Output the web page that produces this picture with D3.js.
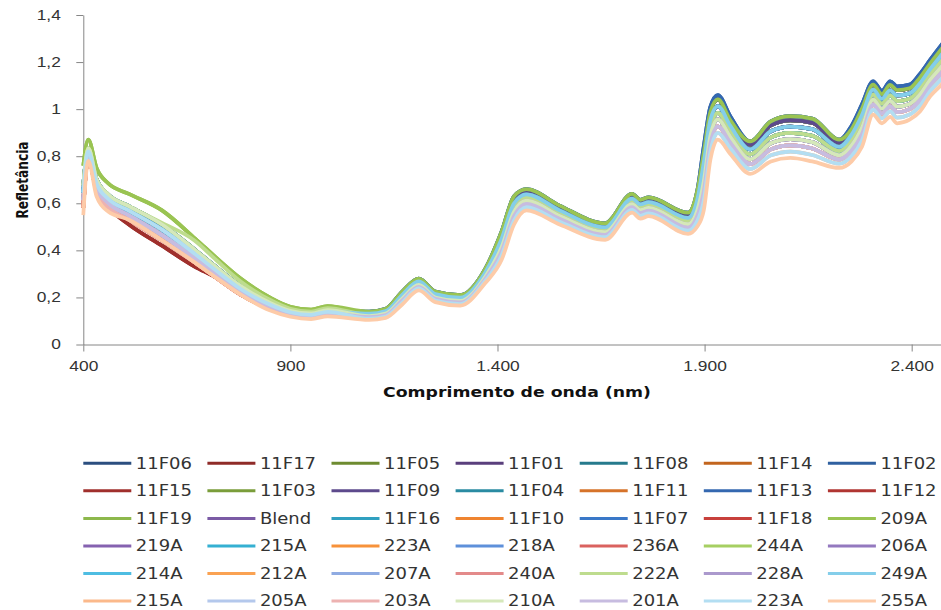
<!DOCTYPE html>
<html lang="pt">
<head>
<meta charset="UTF-8">
<title>Refletância</title>
<style>
  body { margin: 0; background: #fff; }
  svg { display: block; font-family: "DejaVu Sans", Verdana, sans-serif; }
  .axis path, .axis line { stroke: #868686; }
  .axis text { fill: #333; font-size: 14px; }
</style>
</head>
<body>
<svg width="941" height="610"></svg>
<script src="https://cdn.jsdelivr.net/npm/d3@7"></script>
<script>
// wavelength (nm) of every sampled point
const wavelengths = [400,412,432,460,510,590,670,720,780,850,900,950,990,1090,1130,1170,1210,1250,1310,1370,1410,1440,1470,1550,1660,1725,1745,1765,1860,1882,1898,1914,1932,1962,2010,2060,2107,2160,2225,2255,2280,2307,2328,2348,2365,2395,2420,2445,2475,2500];

// reflectance, one array per sample
const r11F06 = [.645,.821,.684,.619,.569,.488,.384,.315,.236,.170,.137,.126,.139,.137,.148,.22,.275,.221,.206,.314,.468,.618,.651,.582,.508,.632,.607,.617,.551,.635,.813,.988,1.041,.954,.849,.931,.952,.942,.858,.915,1.002,1.104,1.064,1.103,1.081,1.089,1.134,1.195,1.263,1.323];
const r11F17 = [.582,.794,.648,.583,.51,.42,.33,.285,.212,.153,.124,.114,.126,.131,.142,.211,.268,.214,.199,.305,.45,.60,.638,.57,.498,.62,.595,.605,.538,.613,.773,.954,1.013,.93,.829,.906,.926,.915,.84,.892,.975,1.083,1.044,1.08,1.058,1.067,1.11,1.171,1.238,1.298];
const r11F05 = [.645,.821,.684,.619,.569,.488,.384,.315,.236,.170,.137,.126,.139,.137,.148,.22,.275,.221,.206,.314,.468,.618,.651,.582,.508,.632,.607,.617,.551,.635,.813,.988,1.041,.954,.849,.931,.952,.942,.858,.915,1.002,1.104,1.064,1.103,1.081,1.089,1.134,1.195,1.263,1.323];
const r11F01 = [.645,.821,.684,.619,.569,.488,.384,.315,.236,.170,.137,.126,.139,.137,.148,.22,.275,.221,.206,.314,.468,.618,.651,.582,.508,.632,.607,.617,.551,.635,.813,.988,1.041,.954,.849,.931,.952,.942,.858,.915,1.002,1.104,1.064,1.103,1.081,1.089,1.134,1.195,1.263,1.323];
const r11F08 = [.676,.834,.702,.637,.588,.51,.402,.33,.248,.178,.143,.132,.146,.131,.142,.211,.268,.214,.199,.305,.45,.60,.638,.57,.498,.62,.595,.605,.538,.613,.773,.954,1.013,.93,.829,.906,.926,.915,.84,.892,.975,1.083,1.044,1.08,1.058,1.067,1.11,1.171,1.238,1.298];
const r11F14 = [.613,.807,.666,.601,.549,.465,.366,.30,.224,.162,.131,.120,.133,.126,.136,.203,.26,.207,.192,.296,.432,.582,.624,.558,.487,.608,.583,.593,.524,.59,.732,.92,.984,.906,.808,.88,.899,.887,.822,.869,.948,1.062,1.023,1.058,1.034,1.044,1.086,1.148,1.212,1.272];
const r11F02 = [.676,.834,.702,.637,.588,.51,.402,.33,.248,.178,.143,.132,.146,.14,.152,.225,.28,.225,.21,.32,.48,.63,.66,.59,.515,.64,.615,.625,.56,.65,.84,1.01,1.06,.97,.863,.948,.97,.96,.87,.93,1.02,1.118,1.078,1.118,1.097,1.104,1.15,1.21,1.28,1.34];
const r11F15 = [.582,.794,.648,.583,.51,.42,.33,.285,.212,.153,.124,.114,.126,.131,.142,.211,.268,.214,.199,.305,.45,.60,.638,.57,.498,.62,.595,.605,.538,.613,.773,.954,1.013,.93,.829,.906,.926,.915,.84,.892,.975,1.083,1.044,1.08,1.058,1.067,1.11,1.171,1.238,1.298];
const r11F03 = [.645,.821,.684,.619,.569,.488,.384,.315,.236,.170,.137,.126,.139,.137,.148,.22,.275,.221,.206,.314,.468,.618,.651,.582,.508,.632,.607,.617,.551,.635,.813,.988,1.041,.954,.849,.931,.952,.942,.858,.915,1.002,1.104,1.064,1.103,1.081,1.089,1.134,1.195,1.263,1.323];
const r11F09 = [.645,.821,.684,.619,.569,.488,.384,.315,.236,.170,.137,.126,.139,.137,.148,.22,.275,.221,.206,.314,.468,.618,.651,.582,.508,.632,.607,.617,.551,.635,.813,.988,1.041,.954,.849,.931,.952,.942,.858,.915,1.002,1.104,1.064,1.103,1.081,1.089,1.134,1.195,1.263,1.323];
const r11F04 = [.676,.834,.702,.637,.588,.51,.402,.33,.248,.178,.143,.132,.146,.131,.142,.211,.268,.214,.199,.305,.45,.60,.638,.57,.498,.62,.595,.605,.538,.613,.773,.954,1.013,.93,.829,.906,.926,.915,.84,.892,.975,1.083,1.044,1.08,1.058,1.067,1.11,1.171,1.238,1.298];
const r11F11 = [.613,.807,.666,.601,.549,.465,.366,.30,.224,.162,.131,.120,.133,.126,.136,.203,.26,.207,.192,.296,.432,.582,.624,.558,.487,.608,.583,.593,.524,.59,.732,.92,.984,.906,.808,.88,.899,.887,.822,.869,.948,1.062,1.023,1.058,1.034,1.044,1.086,1.148,1.212,1.272];
const r11F13 = [.676,.834,.702,.637,.588,.51,.402,.33,.248,.178,.143,.132,.146,.14,.152,.225,.28,.225,.21,.32,.48,.63,.66,.59,.515,.64,.615,.625,.56,.65,.84,1.01,1.06,.97,.863,.948,.97,.96,.87,.93,1.02,1.118,1.078,1.118,1.097,1.104,1.15,1.21,1.28,1.34];
const r11F12 = [.582,.794,.648,.583,.530,.443,.348,.285,.212,.153,.124,.114,.126,.126,.136,.203,.26,.207,.192,.296,.432,.582,.624,.558,.487,.608,.583,.593,.524,.59,.732,.92,.984,.906,.808,.88,.899,.887,.822,.869,.948,1.062,1.023,1.058,1.034,1.044,1.086,1.148,1.212,1.272];
const r11F19 = [.76,.87,.75,.685,.64,.57,.45,.37,.28,.20,.16,.148,.163,.131,.142,.211,.268,.214,.199,.305,.45,.60,.638,.57,.498,.62,.595,.605,.538,.613,.773,.954,1.013,.93,.829,.906,.926,.915,.84,.892,.975,1.083,1.044,1.08,1.058,1.067,1.11,1.171,1.238,1.298];
const rBlend = [.645,.821,.684,.619,.569,.488,.384,.315,.236,.170,.137,.126,.139,.131,.142,.211,.268,.214,.199,.305,.45,.60,.638,.57,.498,.62,.595,.605,.538,.613,.773,.954,1.013,.93,.829,.906,.926,.915,.84,.892,.975,1.083,1.044,1.08,1.058,1.067,1.11,1.171,1.238,1.298];
const r11F16 = [.645,.821,.684,.619,.569,.488,.384,.315,.236,.170,.137,.126,.139,.126,.136,.203,.26,.207,.192,.296,.432,.582,.624,.558,.487,.608,.583,.593,.524,.59,.732,.92,.984,.906,.808,.88,.899,.887,.822,.869,.948,1.062,1.023,1.058,1.034,1.044,1.086,1.148,1.212,1.272];
const r11F10 = [.613,.807,.666,.601,.549,.465,.366,.30,.224,.162,.131,.120,.133,.121,.131,.195,.253,.200,.185,.287,.414,.564,.611,.546,.477,.596,.571,.581,.511,.568,.692,.886,.956,.882,.787,.855,.873,.860,.804,.846,.921,1.040,1.002,1.035,1.011,1.022,1.062,1.125,1.187,1.247];
const r11F07 = [.676,.834,.702,.637,.588,.51,.402,.33,.248,.178,.143,.132,.146,.131,.142,.211,.268,.214,.199,.305,.45,.60,.638,.57,.498,.62,.595,.605,.538,.613,.773,.954,1.013,.93,.829,.906,.926,.915,.84,.892,.975,1.083,1.044,1.08,1.058,1.067,1.11,1.171,1.238,1.298];
const r11F18 = [.582,.794,.648,.583,.530,.443,.348,.285,.212,.153,.124,.114,.126,.121,.131,.195,.253,.200,.185,.287,.414,.564,.611,.546,.477,.596,.571,.581,.511,.568,.692,.886,.956,.882,.787,.855,.873,.860,.804,.846,.921,1.040,1.002,1.035,1.011,1.022,1.062,1.125,1.187,1.247];
const r209A = [.76,.87,.75,.685,.64,.57,.45,.37,.28,.20,.16,.148,.163,.14,.152,.225,.28,.225,.21,.32,.48,.63,.66,.59,.515,.64,.615,.625,.56,.65,.813,.988,1.041,.954,.863,.948,.97,.96,.87,.915,1.002,1.104,1.064,1.103,1.081,1.089,1.134,1.195,1.263,1.323];
const r219A = [.613,.807,.666,.601,.549,.465,.366,.30,.224,.162,.131,.120,.133,.121,.131,.195,.253,.200,.185,.287,.414,.564,.611,.546,.477,.596,.571,.581,.511,.568,.692,.886,.956,.882,.787,.855,.873,.860,.804,.846,.921,1.040,1.002,1.035,1.011,1.022,1.062,1.125,1.187,1.247];
const r215A_a = [.645,.821,.684,.619,.569,.488,.384,.315,.236,.170,.137,.126,.139,.126,.136,.203,.26,.207,.192,.296,.432,.582,.624,.558,.487,.608,.583,.593,.524,.59,.732,.92,.984,.906,.808,.88,.899,.887,.822,.869,.948,1.062,1.023,1.058,1.034,1.044,1.086,1.148,1.212,1.272];
const r223A_a = [.613,.807,.666,.601,.549,.465,.366,.30,.224,.162,.131,.120,.133,.116,.125,.187,.245,.194,.179,.278,.396,.546,.597,.534,.466,.584,.559,.569,.497,.545,.651,.853,.927,.858,.766,.829,.846,.833,.786,.824,.894,1.019,.981,1.012,.987,1.0,1.038,1.102,1.161,1.221];
const r218A = [.645,.821,.684,.619,.569,.488,.384,.315,.236,.170,.137,.126,.139,.121,.131,.195,.253,.200,.185,.287,.414,.564,.611,.546,.477,.596,.571,.581,.511,.568,.692,.886,.956,.882,.787,.855,.873,.860,.804,.846,.921,1.040,1.002,1.035,1.011,1.022,1.062,1.125,1.187,1.247];
const r236A = [.582,.794,.648,.583,.530,.443,.348,.285,.212,.153,.124,.114,.126,.116,.125,.187,.245,.194,.179,.278,.396,.546,.597,.534,.466,.584,.559,.569,.497,.545,.651,.853,.927,.858,.766,.829,.846,.833,.786,.824,.894,1.019,.981,1.012,.987,1.0,1.038,1.102,1.161,1.221];
const r244A = [.676,.834,.702,.637,.588,.51,.402,.33,.248,.178,.143,.132,.146,.126,.136,.203,.26,.207,.192,.296,.432,.582,.624,.558,.487,.608,.583,.593,.524,.59,.732,.92,.984,.906,.808,.88,.899,.887,.822,.869,.948,1.062,1.023,1.058,1.034,1.044,1.086,1.148,1.212,1.272];
const r206A = [.613,.807,.666,.601,.549,.465,.366,.30,.224,.162,.131,.120,.133,.121,.131,.195,.253,.200,.185,.287,.414,.564,.611,.546,.477,.596,.571,.581,.511,.568,.692,.886,.956,.882,.787,.855,.873,.860,.804,.846,.921,1.040,1.002,1.035,1.011,1.022,1.062,1.125,1.187,1.247];
const r214A = [.645,.821,.684,.619,.569,.488,.384,.315,.236,.170,.137,.126,.139,.126,.136,.203,.26,.207,.192,.296,.432,.582,.624,.558,.487,.608,.583,.593,.524,.59,.732,.92,.984,.906,.808,.88,.899,.887,.822,.869,.948,1.062,1.023,1.058,1.034,1.044,1.086,1.148,1.212,1.272];
const r212A = [.582,.794,.648,.583,.530,.443,.348,.285,.212,.153,.124,.114,.126,.116,.125,.187,.245,.194,.179,.278,.396,.546,.597,.534,.466,.584,.559,.569,.497,.545,.651,.853,.927,.858,.766,.829,.846,.833,.786,.824,.894,1.019,.981,1.012,.987,1.0,1.038,1.102,1.161,1.221];
const r207A = [.613,.807,.666,.601,.549,.465,.366,.30,.224,.162,.131,.120,.133,.121,.131,.195,.253,.200,.185,.287,.414,.564,.611,.546,.477,.596,.571,.581,.511,.568,.692,.886,.956,.882,.787,.855,.873,.860,.804,.846,.921,1.040,1.002,1.035,1.011,1.022,1.062,1.125,1.187,1.247];
const r240A = [.582,.794,.648,.583,.530,.443,.348,.285,.212,.153,.124,.114,.126,.116,.125,.187,.245,.194,.179,.278,.396,.546,.597,.534,.466,.584,.559,.569,.497,.545,.651,.853,.927,.858,.766,.829,.846,.833,.786,.824,.894,1.019,.981,1.012,.987,1.0,1.038,1.102,1.161,1.221];
const r222A = [.676,.834,.702,.637,.588,.517,.44,.36,.268,.19,.152,.14,.155,.126,.136,.203,.26,.207,.192,.296,.432,.582,.624,.558,.487,.608,.583,.593,.524,.59,.732,.92,.984,.906,.808,.88,.899,.887,.822,.869,.948,1.062,1.023,1.058,1.034,1.044,1.086,1.148,1.212,1.272];
const r228A = [.613,.807,.666,.601,.549,.465,.366,.30,.224,.162,.131,.120,.133,.121,.131,.195,.253,.200,.185,.287,.414,.564,.611,.546,.477,.596,.571,.581,.511,.568,.692,.886,.956,.882,.787,.855,.873,.860,.804,.846,.921,1.040,1.002,1.035,1.011,1.022,1.062,1.125,1.187,1.247];
const r249A = [.645,.821,.684,.619,.569,.488,.384,.315,.236,.170,.137,.126,.139,.131,.142,.211,.268,.214,.199,.305,.45,.60,.638,.57,.498,.62,.595,.605,.538,.613,.773,.954,1.013,.93,.829,.906,.926,.915,.84,.892,.975,1.083,1.044,1.08,1.058,1.067,1.11,1.171,1.238,1.298];
const r215A_b = [.582,.794,.648,.583,.530,.443,.348,.285,.212,.153,.124,.114,.126,.110,.119,.178,.238,.187,.172,.269,.378,.528,.584,.522,.456,.572,.547,.557,.484,.523,.611,.819,.899,.834,.746,.804,.820,.805,.768,.801,.867,.998,.961,.990,.964,.977,1.014,1.078,1.136,1.196];
const r205A = [.613,.807,.666,.601,.549,.465,.366,.30,.224,.162,.131,.120,.133,.116,.125,.187,.245,.194,.179,.278,.396,.546,.597,.534,.466,.584,.559,.569,.497,.545,.651,.853,.927,.858,.766,.829,.846,.833,.786,.824,.894,1.019,.981,1.012,.987,1.0,1.038,1.102,1.161,1.221];
const r203A = [.582,.794,.648,.583,.530,.443,.348,.285,.212,.153,.124,.114,.126,.116,.125,.187,.245,.194,.179,.278,.396,.546,.597,.534,.466,.584,.559,.569,.497,.545,.651,.853,.927,.858,.766,.829,.846,.833,.786,.824,.894,1.019,.981,1.012,.987,1.0,1.038,1.102,1.161,1.221];
const r210A = [.676,.834,.702,.637,.588,.51,.402,.33,.248,.178,.143,.132,.146,.121,.131,.195,.253,.200,.185,.287,.414,.564,.611,.546,.477,.596,.571,.581,.511,.568,.692,.886,.956,.882,.787,.855,.873,.860,.804,.846,.921,1.040,1.002,1.035,1.011,1.022,1.062,1.125,1.187,1.247];
const r201A = [.613,.807,.666,.601,.549,.465,.366,.30,.224,.162,.131,.120,.133,.116,.125,.187,.245,.194,.179,.278,.396,.546,.597,.534,.466,.584,.559,.569,.497,.545,.651,.853,.927,.858,.766,.829,.846,.833,.786,.824,.894,1.019,.981,1.012,.987,1.0,1.038,1.102,1.161,1.221];
const r223A_b = [.645,.821,.684,.619,.569,.488,.384,.315,.236,.170,.137,.126,.139,.110,.119,.178,.238,.187,.172,.269,.378,.528,.584,.522,.456,.572,.547,.557,.484,.523,.611,.819,.899,.834,.746,.804,.820,.805,.768,.801,.867,.998,.961,.990,.964,.977,1.014,1.078,1.136,1.196];
const r255A = [.55,.78,.63,.565,.53,.443,.348,.285,.212,.145,.118,.108,.12,.105,.113,.17,.23,.18,.165,.26,.36,.51,.57,.51,.445,.56,.535,.545,.47,.50,.57,.785,.87,.81,.725,.778,.793,.778,.75,.778,.84,.977,.94,.967,.94,.955,.99,1.055,1.11,1.17];

const seriesNames = ['11F06','11F17','11F05','11F01','11F08','11F14','11F02','11F15','11F03','11F09','11F04','11F11','11F13','11F12','11F19','Blend','11F16','11F10','11F07','11F18','209A','219A','215A','223A','218A','236A','244A','206A','214A','212A','207A','240A','222A','228A','249A','215A','205A','203A','210A','201A','223A','255A'];
const seriesValues = [r11F06,r11F17,r11F05,r11F01,r11F08,r11F14,r11F02,r11F15,r11F03,r11F09,r11F04,r11F11,r11F13,r11F12,r11F19,rBlend,r11F16,r11F10,r11F07,r11F18,r209A,r219A,r215A_a,r223A_a,r218A,r236A,r244A,r206A,r214A,r212A,r207A,r240A,r222A,r228A,r249A,r215A_b,r205A,r203A,r210A,r201A,r223A_b,r255A];
const seriesColors = ['#2B4E7F','#8F2B28','#6E8B30','#5A3F7C','#267A8C','#C2651E','#2F60A0','#A02F2C','#7A9D3A','#5D4A8C','#2A8BA2','#D6732A','#3468B0','#B03532','#8DB84C','#7B5BA5','#30A0C0','#EF8430','#3A78C8','#C8403C','#9AC452','#8562B0','#35B0D2','#F7923A','#5E90DA','#DA625F','#A6CF62','#9479BF','#4EBDE2','#FAA252','#8FABE2','#E38A8A','#BEDC8E','#AB99CD','#84CEEA','#FBB98B','#B4C8EC','#EDB2B1','#D5E8BA','#C7BCE0','#B3DEF2','#FDCBA8'];

const xTicks = [400, 900, 1400, 1900, 2400];
const yTicks = [0, 0.2, 0.4, 0.6, 0.8, 1, 1.2, 1.4];

const pt = d3.formatLocale({ decimal: ',', thousands: '.', grouping: [3], currency: ['R$', ''] });

const svg = d3.select('svg');

const x = d3.scaleLinear().domain([400, 2500]).range([83.3, 953.1]);
const y = d3.scaleLinear().domain([0, 1.4]).range([344.5, 15]);

// the picture is a bit wider than the font, so stretch text sideways
function stretch(sel, k) {
    sel.each(function () {
        const len = this.getComputedTextLength();
        d3.select(this).attr('textLength', len * k).attr('lengthAdjust', 'spacingAndGlyphs');
    });
}

svg.append('g')
    .attr('class', 'axis')
    .attr('transform', 'translate(0,344.5)')
    .call(d3.axisBottom(x).tickValues(xTicks).tickFormat(pt.format(',')).tickSize(7).tickSizeOuter(0).tickPadding(10))
    .call(g => stretch(g.selectAll('text'), 1.24));

svg.append('g')
    .attr('class', 'axis')
    .attr('transform', 'translate(83.3,0)')
    .call(d3.axisLeft(y).tickValues(yTicks).tickFormat(pt.format('.1~f')).tickSize(7).tickSizeOuter(0).tickPadding(15.5))
    .call(g => stretch(g.selectAll('text'), 1.24));

const line = d3.line()
    .x((d, i) => x(wavelengths[i]))
    .y(d => y(d))
    .curve(d3.curveMonotoneX);

svg.append('g')
    .selectAll('path')
    .data(seriesValues)
    .join('path')
    .attr('d', line)
    .attr('fill', 'none')
    .attr('stroke', (d, i) => seriesColors[i])
    .attr('stroke-width', 3.75)
    .attr('stroke-linejoin', 'round');

svg.append('text')
    .attr('x', 517)
    .attr('y', 397)
    .attr('text-anchor', 'middle')
    .attr('font-size', 14.5)
    .attr('font-weight', 'bold')
    .attr('fill', '#111')
    .attr('textLength', 268)
    .attr('lengthAdjust', 'spacingAndGlyphs')
    .text('Comprimento de onda (nm)');

svg.append('text')
    .attr('transform', 'translate(27.5,180) rotate(-90)')
    .attr('text-anchor', 'middle')
    .attr('font-size', 16)
    .attr('font-weight', 'bold')
    .attr('fill', '#111')
    .attr('textLength', 77)
    .attr('lengthAdjust', 'spacingAndGlyphs')
    .text('Refletância');

// legend: 7 columns, 6 rows
const legend = svg.append('g');
seriesNames.forEach((name, i) => {
    const gx = 83.3 + (i % 7) * 124.1;
    const gy = 463.3 + Math.floor(i / 7) * 27.55;
    legend.append('line')
        .attr('x1', gx).attr('x2', gx + 48)
        .attr('y1', gy).attr('y2', gy)
        .attr('stroke', seriesColors[i])
        .attr('stroke-width', 3);
    legend.append('text')
        .attr('x', gx + 52.5)
        .attr('y', gy)
        .attr('dy', '0.36em')
        .attr('font-size', 15)
        .attr('fill', '#333')
        .text(name)
        .call(t => stretch(t, 1.2));
});
</script>
</body>
</html>
